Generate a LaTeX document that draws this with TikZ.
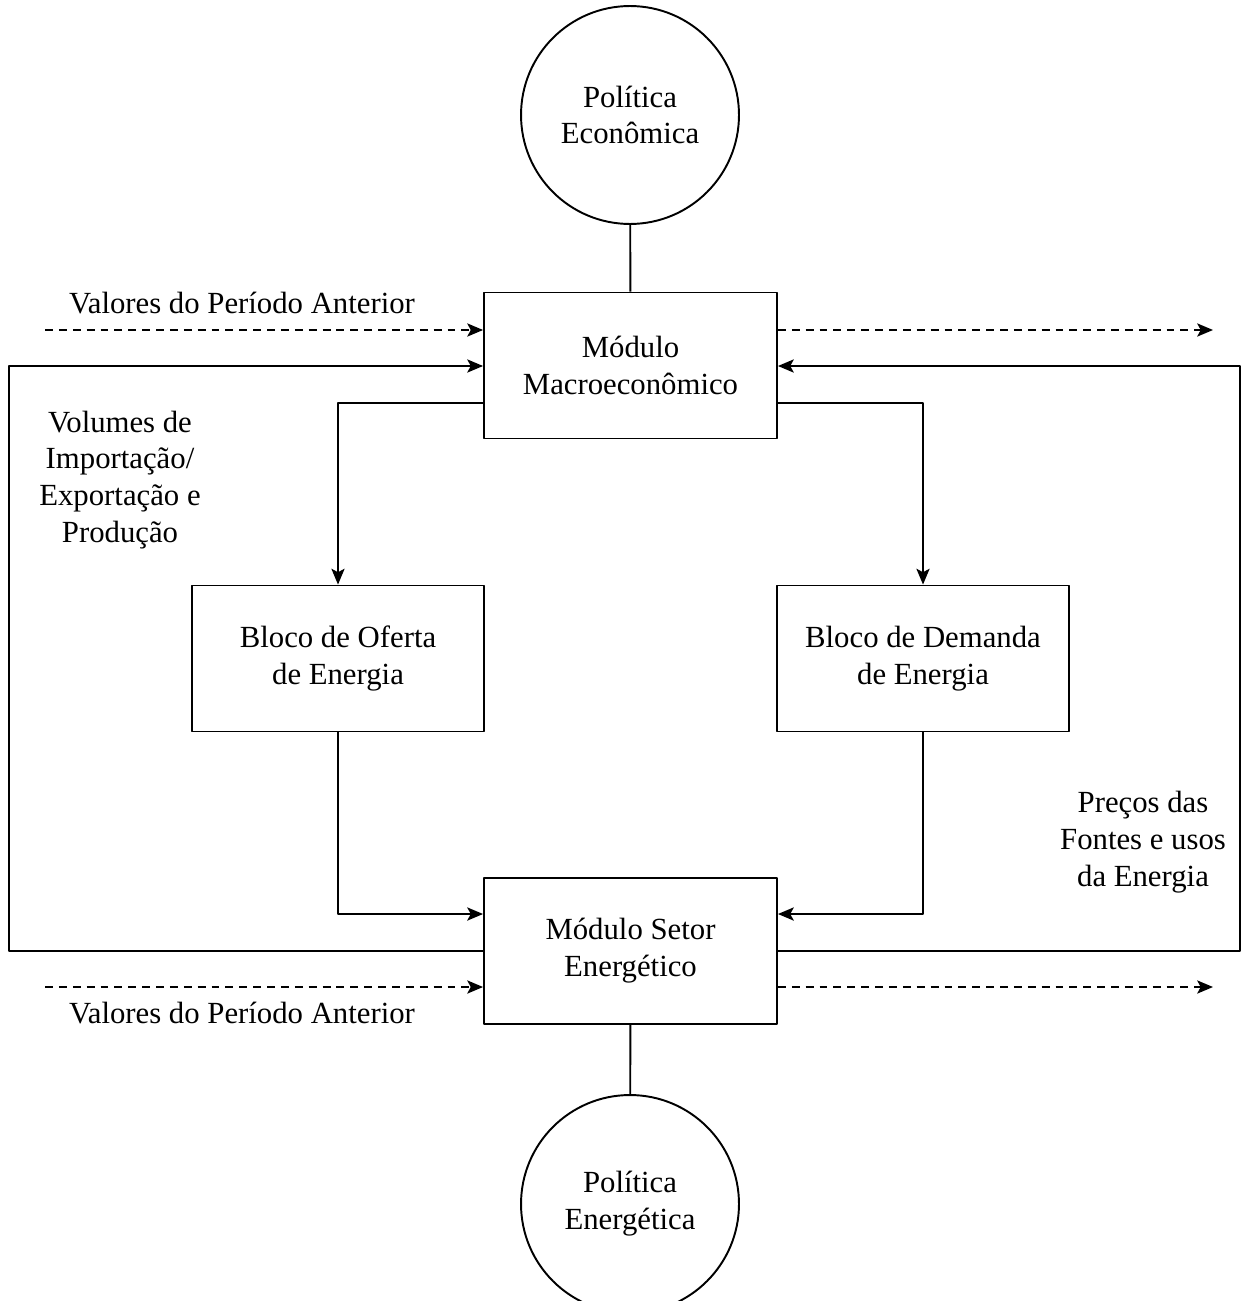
\documentclass[tikz,border=0pt]{standalone}
\usepackage{fontspec}
\setmainfont{Liberation Serif}
\usetikzlibrary{arrows.meta}

\begin{document}
\begin{tikzpicture}[x=0.02cm,y=-0.02cm,>={Stealth[length=9pt,width=7.5pt,inset=2pt]},line join=bevel,line width=1.1pt,
  font=\fontsize{17.5pt}{21pt}\selectfont,
  box/.style={draw,rectangle,align=center,minimum width=5.86cm,minimum height=2.92cm,inner sep=0pt},
  circ/.style={draw,circle,align=center,minimum size=4.36cm,inner sep=0pt},
  lbl/.style={draw=none,align=center,inner sep=0pt},
  dash line/.style={dash pattern=on 4.5pt off 3.4pt},
]
\useasboundingbox (0,0) rectangle (1242,1301);
\clip (0,0) rectangle (1242,1301);
%%
  \node (node_econ) at (630,115) [circ] {Política\\Econômica};
  \node (node_macro) at (630.5,365.5) [box] {Módulo\\Macroeconômico};
  \node (node_oferta) at (338,658.5) [box,minimum width=5.84cm] {Bloco de Oferta\\de Energia};
  \node (node_demanda) at (923,658.5) [box,minimum width=5.84cm] {Bloco de Demanda\\de Energia};
  \node (node_setor) at (630.5,951) [box] {Módulo Setor\\Energético};
  \node (node_energ) at (630,1204) [circ] {Política\\Energética};

  \node (lbl_val1) at (242,313) [lbl,anchor=base] {Valores do Período Anterior};
  \node (lbl_val2) at (242,1023) [lbl,anchor=base] {Valores do Período Anterior};
  \node (lbl_vol) at (120,480) [lbl] {Volumes de\\Importação/\\Exportação e\\Produção};
  \node (lbl_prec) at (1143,842) [lbl] {Preços das\\Fontes e usos\\da Energia};

  \coordinate (in_1) at (45,330);
  \coordinate (out_1) at (1213,330);
  \coordinate (in_2) at (45,987);
  \coordinate (out_2) at (1213,987);
  \coordinate (corner_l) at (9,366);
  \coordinate (corner_r) at (1240,366);

  \draw [black] (node_econ) -- (node_macro);
  \draw [black] (node_setor) -- (node_energ);

  \draw [black,dash line,->] (in_1) -- (in_1 -| node_macro.west);
  \draw [black,dash line,->] (out_1 -| node_macro.east) -- (out_1);
  \draw [black,dash line,->] (in_2) -- (in_2 -| node_setor.west);
  \draw [black,dash line,->] (out_2 -| node_setor.east) -- (out_2);

  \draw [black,->] (node_setor.west) -| (corner_l) -- (corner_l -| node_macro.west);
  \draw [black,->] (node_setor.east) -| (corner_r) -- (corner_r -| node_macro.east);

  \draw [black,->] ([yshift=-0.75cm]node_macro.west) -| (node_oferta.north);
  \draw [black,->] ([yshift=-0.75cm]node_macro.east) -| (node_demanda.north);
  \draw [black,->] (node_oferta.south) |- ([yshift=0.74cm]node_setor.west);
  \draw [black,->] (node_demanda.south) |- ([yshift=0.74cm]node_setor.east);

\end{tikzpicture}
\end{document}
